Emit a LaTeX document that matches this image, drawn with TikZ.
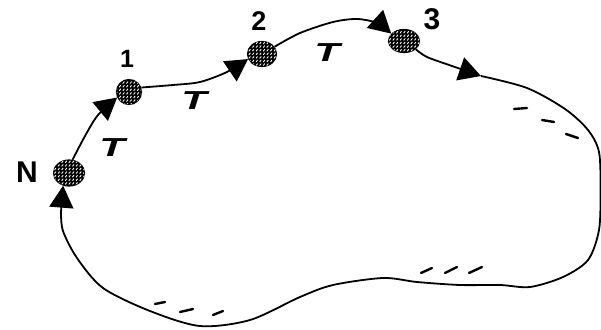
\documentclass[tikz,border=0pt]{standalone}
\usepackage{fontspec}
\setmainfont{Liberation Sans}
\usetikzlibrary{arrows.meta,patterns,shapes.geometric}
\pgfdeclarepatternformonly{beadhatch}{\pgfqpoint{-1pt}{-1pt}}{\pgfqpoint{5pt}{5pt}}{\pgfqpoint{3.6pt}{3.6pt}}{%
  \pgfsetlinewidth{0.9pt}\pgfsetroundcap
  \pgfpathmoveto{\pgfqpoint{0.6pt}{0.8pt}}\pgfpathlineto{\pgfqpoint{1.8pt}{2.4pt}}\pgfusepath{stroke}}
\begin{document}
\begin{tikzpicture}[x=1pt,y=-1pt,
  curve/.style={line width=1.8pt},
  tip/.style={-{Triangle[width=24pt,length=22pt]}},
  bead/.style={ellipse, draw, line width=1.2pt, fill=black, inner sep=0pt,
    postaction={pattern=beadhatch, pattern color=white}},
  dashmark/.style={line width=2.4pt, line cap=round},
  lab/.style={inner sep=0pt, font=\bfseries\fontsize{30}{30}\selectfont},
  tlab/.style={inner sep=0pt, xscale=1.6, font=\bfseries\itshape\fontsize{26}{26}\selectfont}
]
\useasboundingbox (0,0) rectangle (601,329);
\clip (0,0) rectangle (601,329);
\fill[white] (0,0) rectangle (601,329);

% beads
\node[bead, minimum width=31pt, minimum height=26pt] (N) at (69,173) {};
\node[bead, minimum width=25pt, minimum height=25pt] (n1) at (129,92) {};
\node[bead, minimum width=29pt, minimum height=25pt] (n2) at (262,54) {};
\node[bead, minimum width=31pt, minimum height=23pt] (n3) at (404,41) {};
\coordinate (m) at (481,76);

% connectors
\draw[curve,tip] plot[smooth] coordinates {(N.75) (85,136) (98,115) (n1.205)};
\draw[curve,tip] plot[smooth] coordinates {(n1.20) (173,85) (200,82) (227,72) (n2.200)};
\draw[curve,tip] plot[smooth] coordinates {(n2.30) (300,33) (333,22) (357,19) (377,23) (n3.150)};
\draw[curve,tip] plot[smooth] coordinates {(n3.-35) (427,57) (452,66) (m)};
\draw[curve] plot[smooth] coordinates {(m) (527,88) (565,109) (588,130) (599,152) (600.5,190)
  (599,230) (588,260) (563,277) (530,287) (500,285) (460,285) (417,282) (383,278)
  (333,285) (300,297) (250,320) (200,326) (150,311) (103,288) (77,258) (63,231) (61,212)};
\coordinate (b) at (61,212);
\draw[curve,tip] (b) -- (N.245);

% labels
\node[lab] (lN) at (27,172) {N};
\node[inner sep=0pt, font=\bfseries\fontsize{25}{25}\selectfont] (l1) at (127,59) {1};
\node[inner sep=0pt, font=\bfseries\fontsize{27}{27}\selectfont] (l2) at (259,21) {2};
\node[lab] (l3) at (432,19) {3};
\node[tlab] (t1) at (112,148) {T};
\node[tlab] (t2) at (194,101) {T};
\node[tlab] (t3) at (327,53) {T};

% dashes
\draw[dashmark] (514,109) -- (527,108);
\draw[dashmark] (542,120) -- (554,122);
\draw[dashmark] (566,134) -- (578,138);
\draw[dashmark] (155,304) -- (165,302);
\draw[dashmark] (180,312) -- (193,309);
\draw[dashmark] (213,315) -- (223,311);
\draw[dashmark] (421,273) -- (432,268);
\draw[dashmark] (445,273) -- (457,267);
\draw[dashmark] (469,273) -- (482,267);
\end{tikzpicture}
\end{document}
